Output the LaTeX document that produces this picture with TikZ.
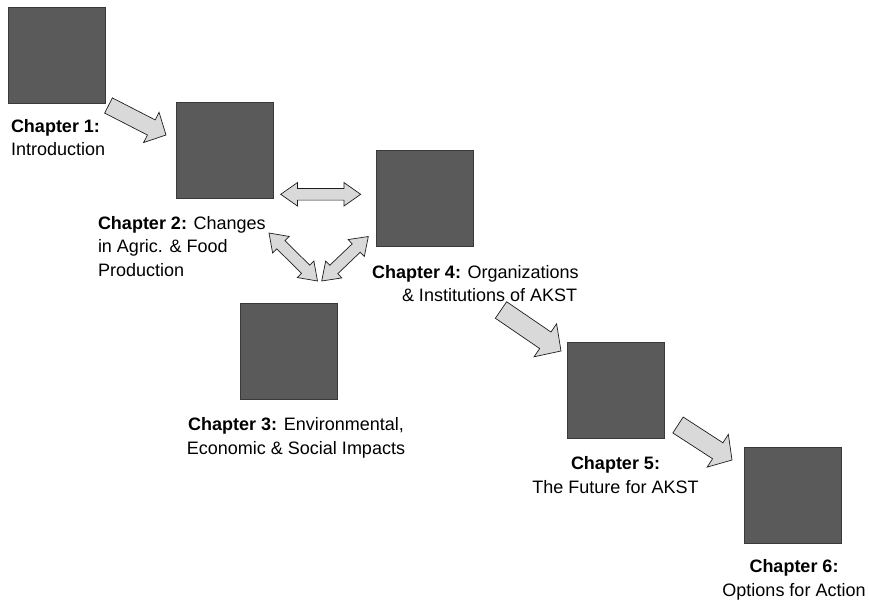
\documentclass[tikz,border=0pt]{standalone}
\usepackage{fontspec}
\setmainfont{Liberation Sans}
\usetikzlibrary{calc}
\definecolor{boxfill}{HTML}{5A5A5A}
\definecolor{boxline}{HTML}{3A3A3A}
\definecolor{arrfill}{HTML}{D9D9D9}
\definecolor{arrline}{HTML}{1E1E1E}
\tikzset{
  chapbox/.style={draw=boxline, fill=boxfill, line width=0.9pt, minimum width=97pt, minimum height=96pt, inner sep=0pt, outer sep=0pt},
  blockarrow/.style={draw=arrline, fill=arrfill, line width=0.7pt, line join=miter},
  lbl/.style={font=\fontsize{18}{23.5}\selectfont, inner sep=0pt, outer sep=0pt, text=black},
}
% single block arrow: name, tail, tip, shaft half width, head half width, head length
\newcommand{\sglarrow}[6]{%
  \coordinate (#1-hb) at ($(#3)!#6!(#2)$);
  \draw[blockarrow] ($(#2)!#4!90:(#3)$) -- ($(#1-hb)!#4!-90:(#2)$) -- ($(#1-hb)!#5!-90:(#2)$)
    -- (#3) -- ($(#1-hb)!#5!90:(#2)$) -- ($(#1-hb)!#4!90:(#2)$) -- ($(#2)!#4!-90:(#3)$) -- cycle;
}
% double block arrow: name, end A, end B, shaft half width, head half width, head length
\newcommand{\dblarrow}[6]{%
  \coordinate (#1-ha) at ($(#2)!#6!(#3)$);
  \coordinate (#1-hb) at ($(#3)!#6!(#2)$);
  \draw[blockarrow] (#2) -- ($(#1-ha)!#5!90:(#3)$) -- ($(#1-ha)!#4!90:(#3)$) -- ($(#1-hb)!#4!-90:(#2)$)
    -- ($(#1-hb)!#5!-90:(#2)$) -- (#3) -- ($(#1-hb)!#5!90:(#2)$) -- ($(#1-hb)!#4!90:(#2)$)
    -- ($(#1-ha)!#4!-90:(#3)$) -- ($(#1-ha)!#5!-90:(#3)$) -- cycle;
}
\begin{document}
\begin{tikzpicture}[x=1pt, y=-1pt]
\useasboundingbox (0,0) rectangle (869,602);
% boxes
\node[chapbox] (b1) at (56.5,55) {};
\node[chapbox] (b2) at (224.5,150.5) {};
\node[chapbox] (b4) at (424.5,198.5) {};
\node[chapbox] (b3) at (289,351) {};
\node[chapbox] (b5) at (615.5,390) {};
\node[chapbox] (b6) at (793,495) {};
% labels
\node[lbl, align=left, anchor=north west] (t1) at (11,119) {\textbf{Chapter 1:}\\Introduction};
\node[lbl, align=left, anchor=north west] (t2) at (98,216.4) {\textbf{Chapter 2:} Changes\\in Agric. \& Food\\Production};
\node[lbl, align=left, anchor=north west] (t4) at (372,265.4) {\textbf{Chapter 4:} Organizations\\\hspace*{30pt}\& Institutions of AKST};
\node[lbl, align=center, anchor=north] (t3) at (296,417.9) {\textbf{Chapter 3:} Environmental,\\Economic \& Social Impacts};
\node[lbl, align=center, anchor=north] (t5) at (615.5,456.9) {\textbf{Chapter 5:}\\The Future for AKST};
\node[lbl, align=center, anchor=north] (t6) at (794,559.9) {\textbf{Chapter 6:}\\Options for Action};
% arrow end points
\coordinate (a1t) at (108.5,105.5);
\coordinate (a1p) at (166,135);
\coordinate (a2t) at (501,310);
\coordinate (a2p) at (561,351);
\coordinate (a3t) at (678,425);
\coordinate (a3p) at (732,460);
\coordinate (dhA) at (280.7,194.3);
\coordinate (dhB) at (360.7,194.3);
\coordinate (dlA) at (269,233);
\coordinate (dlB) at (317.5,281);
\coordinate (drA) at (368.3,236.5);
\coordinate (drB) at (321.7,281);
% arrows
\sglarrow{a1}{a1t}{a1p}{8.5pt}{17pt}{16.5pt}
\sglarrow{a2}{a2t}{a2p}{10pt}{20pt}{19pt}
\sglarrow{a3}{a3t}{a3p}{9.5pt}{19.5pt}{17pt}
\dblarrow{dh}{dhA}{dhB}{5.8pt}{11.7pt}{16.7pt}
\dblarrow{dl}{dlA}{dlB}{5.8pt}{11.7pt}{16.7pt}
\dblarrow{dr}{drA}{drB}{5.8pt}{11.7pt}{16.7pt}
\end{tikzpicture}
\end{document}
